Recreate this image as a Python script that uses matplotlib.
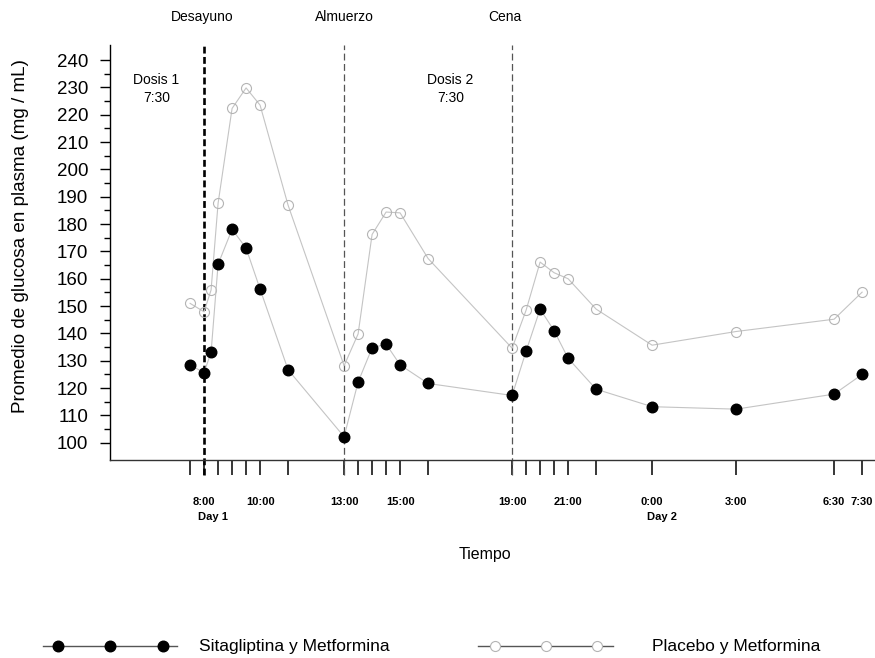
import matplotlib
matplotlib.use("Agg")
import matplotlib.pyplot as plt
from matplotlib.ticker import FixedLocator

plt.rcParams['font.family'] = ['Liberation Sans', 'DejaVu Sans']

# ---------------- data (hours since 0:00 of day 1) ----------------
times = [7.5, 8, 8.25, 8.5, 9, 9.5, 10, 11,
         13, 13.5, 14, 14.5, 15, 16,
         19, 19.5, 20, 20.5, 21, 22, 24, 27, 30.5, 31.5]

sitagliptina = [128.4, 125.7, 133.1, 165.3, 178.1, 171.2, 156.2, 126.7,
                102.2, 122.2, 134.7, 136.1, 128.5, 121.7,
                117.3, 133.5, 148.9, 141.0, 130.9, 119.6, 113.2, 112.3, 117.8, 125.0]

placebo = [151.0, 147.9, 155.9, 187.6, 222.3, 229.8, 223.5, 186.9,
           128.2, 139.8, 176.2, 184.4, 184.1, 167.4,
           134.6, 148.5, 166.1, 162.2, 160.0, 148.9, 135.7, 140.7, 145.2, 155.1]

tick_times = [7.5, 8, 8.5, 9, 9.5, 10, 11, 13, 13.5, 14, 14.5, 15, 16,
              19, 19.5, 20, 20.5, 21, 22, 24, 27, 30.5, 31.5]
tick_labels = ['', '8:00', '', '', '', '10:00', '', '13:00', '', '', '', '15:00', '',
               '19:00', '', '', '', '21:00', '', '0:00', '3:00', '6:30', '7:30']

meals = ['Desayuno', 'Almuerzo', 'Cena']
meal_times = [8, 13, 19]
meal_label_x = [7.95, 13.0, 18.75]
dose_labels = ['Dosis 1\n7:30', 'Dosis 2\n7:30']
dose_pos = [6.3, 16.8]
day_labels = ['Day 1', 'Day 2']
day_pos = [8.32, 24.36]

# ---------------- figure ----------------
fig = plt.figure(figsize=(8.75, 6.58), dpi=100)
ax = fig.add_axes([110/875, 1 - 460/658, 1 - 110/875, 415/658])

line_col = '#c4c4c4'
ax.plot(times, placebo, color=line_col, lw=0.8, marker='o', ms=7.2,
        mfc='none', mec='#b4b4b4', mew=0.8, zorder=3)
ax.plot(times, sitagliptina, color=line_col, lw=0.8, marker='o', ms=7.6,
        mfc='black', mec='black', zorder=4)

ax.set_xlim(4.64, 31.96)
ax.set_ylim(93.7, 245.5)

# vertical meal lines (extend down through the tick marks)
for i, t in enumerate(meal_times):
    if i == 0:
        ax.plot([t, t], [88.2, 245.5], color='black', lw=1.9,
                ls=(0, (2.6, 1.3)), clip_on=False, zorder=2)
    else:
        ax.plot([t, t], [88.2, 245.5], color='#555555', lw=0.9,
                ls=(0, (5.5, 2.8)), clip_on=False, zorder=2)
    ax.text(meal_label_x[i], 1.0675, meals[i], transform=ax.get_xaxis_transform(),
            ha='center', va='center', fontsize=10)

for lab, x in zip(dose_labels, dose_pos):
    ax.text(x, 229.3, lab, ha='center', va='center', fontsize=10,
            linespacing=1.35)

# axes styling
for s in ['top', 'right']:
    ax.spines[s].set_visible(False)
ax.spines['left'].set_linewidth(1.0)
ax.spines['bottom'].set_linewidth(1.0)
ax.spines['bottom'].set_color('#333333')

ax.yaxis.set_major_locator(FixedLocator(range(100, 241, 10)))
ax.yaxis.set_minor_locator(FixedLocator(range(105, 240, 10)))
ax.tick_params(axis='y', which='major', length=7.2, width=1.0, pad=8.5,
               labelsize=13.5)
ax.tick_params(axis='y', which='minor', length=4.3, width=1.0)

ax.set_xticks(tick_times)
ax.set_xticklabels(tick_labels, fontsize=8, fontweight='bold')
ax.tick_params(axis='x', length=10.8, width=1.1, pad=15.5)

for lab, x in zip(day_labels, day_pos):
    ax.text(x, -0.138, lab, transform=ax.get_xaxis_transform(),
            ha='center', va='center', fontsize=8, fontweight='bold')

fig.text(485/875, 1 - 554/658, 'Tiempo', ha='center', va='center', fontsize=11.5)
fig.text(21/875, 1 - 236/658, 'Promedio de glucosa en plasma (mg / mL)',
         rotation=90, ha='center', va='center', fontsize=13.6)

# ---------------- legend drawn below the plot ----------------
lax = fig.add_axes([0, 0, 1, 1])
lax.set_xlim(0, 875)
lax.set_ylim(658, 0)
lax.axis('off')
legend_y = 646
lax.plot([43, 177], [legend_y, legend_y], color='#555555', lw=1.0)
lax.plot([58, 110, 163], [legend_y] * 3, ls='none', marker='o', ms=7.6,
         mfc='black', mec='black')
lax.text(199, legend_y, 'Sitagliptina y Metformina', va='center', fontsize=12.5)
lax.plot([478, 613], [legend_y, legend_y], color='#555555', lw=1.0)
lax.plot([495, 546, 597], [legend_y] * 3, ls='none', marker='o', ms=7.2,
         mfc='white', mec='#b4b4b4', mew=0.8)
lax.text(652, legend_y, 'Placebo y Metformina', va='center', fontsize=12.5)

fig.savefig('out.png', dpi=100)
